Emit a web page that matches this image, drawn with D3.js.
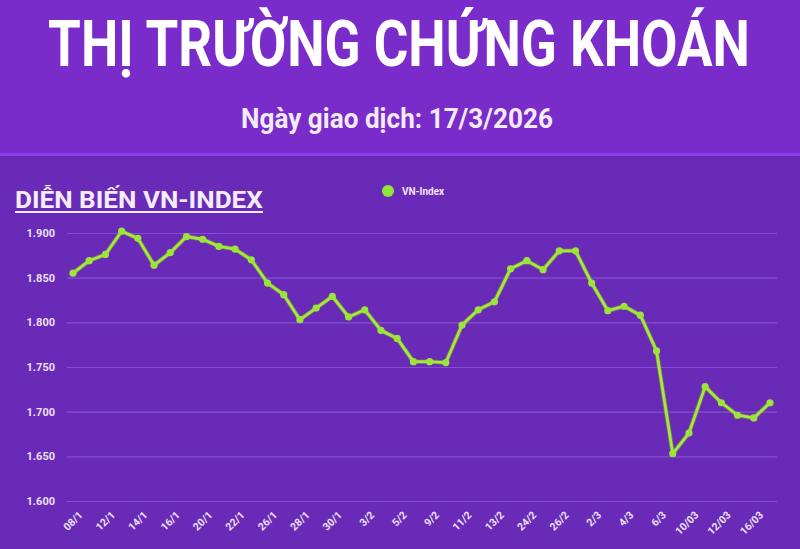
<!DOCTYPE html>
<html><head><meta charset="utf-8">
<script src="https://cdn.jsdelivr.net/npm/d3@7"></script>
<style>html,body{margin:0;padding:0;background:#6a2ab8;}svg{display:block;}</style>
</head><body>
<script>
const dates = ["08/1","9/1","12/1","13/1","14/1","15/1","16/1","19/1","20/1","21/1","22/1","23/1","26/1","27/1","28/1","29/1","30/1","2/2","3/2","4/2","5/2","6/2","9/2","10/2","11/2","12/2","13/2","23/2","24/2","25/2","26/2","27/2","2/3","3/3","4/3","5/3","6/3","9/3","10/03","11/03","12/03","13/03","16/03","17/03"];
const values = [1855,1869,1876,1902,1894,1864,1878,1896,1893,1885,1882,1870,1844,1831,1803,1816,1829,1806,1814,1791,1782,1756,1756,1755,1797,1814,1823,1860,1869,1859,1880,1880,1844,1813,1818,1808,1768,1653,1676,1728,1710,1696,1693,1710];
const yTicks = [1600,1650,1700,1750,1800,1850,1900];
const yTickLabels = ["1.600","1.650","1.700","1.750","1.800","1.850","1.900"];
const seriesName = "VN-Index";
const title = "THỊ TRƯỜNG CHỨNG KHOÁN";
const subtitle = "Ngày giao dịch: 17/3/2026";
const chartTitle = "DIỄN BIẾN VN-INDEX";

const W = 800, H = 549;
const svg = d3.select("body").append("svg").attr("width", W).attr("height", H);

// backgrounds
svg.append("rect").attr("x",0).attr("y",0).attr("width",W).attr("height",H).attr("fill","#6a2ab8");
svg.append("rect").attr("x",0).attr("y",0).attr("width",W).attr("height",154).attr("fill","#7a2ccb");
svg.append("rect").attr("x",0).attr("y",153).attr("width",W).attr("height",3).attr("fill","#8a40ee");

// fitted text: scale horizontally with a transform so the real box matches the target width
function fitText(txt, cx, baseline, size, width, anchor, fill) {
  const g = svg.append("g");
  const t = g.append("text").attr("x",0).attr("y",0).attr("text-anchor",anchor)
    .attr("font-family","Roboto, 'Liberation Sans', sans-serif").attr("font-weight","bold")
    .attr("font-size",size).attr("fill",fill).text(txt);
  const w = t.node().getComputedTextLength();
  g.attr("transform",`translate(${cx},${baseline}) scale(${width/w},1)`);
  return t;
}
fitText(title, 399, 66, 64, 702, "middle", "#ffffff");
fitText(subtitle, 397, 128, 27, 312, "middle", "#f3eafa");
fitText(chartTitle, 15, 208, 24, 248, "start", "#f5ecfa");
svg.append("rect").attr("x",15).attr("y",211).attr("width",248).attr("height",2).attr("fill","#f5ecfa");

// legend
svg.append("circle").attr("cx",388).attr("cy",191).attr("r",6).attr("fill","#8ee83a");
svg.append("text").attr("x",402).attr("y",195).attr("font-family","Roboto, sans-serif")
  .attr("font-weight","bold").attr("font-size",10).attr("fill","#f3e6f7").text(seriesName);

// scales
const x = d3.scalePoint().domain(dates).range([73, 770]);
const y = d3.scaleLinear().domain([1600,1900]).range([501, 233]);

// grid
const yAxis = d3.axisLeft(y).tickValues(yTicks).tickSize(-(777-67))
  .tickFormat((d,i)=>yTickLabels[i]);
const gy = svg.append("g").attr("transform","translate(67,0)").call(yAxis);
gy.select(".domain").remove();
gy.selectAll(".tick line").attr("stroke","#8350d0").attr("stroke-width",1.2);
gy.selectAll(".tick text").attr("x",-12).attr("fill","#ece0f5")
  .attr("font-family","Roboto, sans-serif").attr("font-weight","bold").attr("font-size",11);

// x axis
const xAxis = d3.axisBottom(x).tickValues(dates.filter((d,i)=>i%2===0)).tickSize(0);
const gx = svg.append("g").attr("transform","translate(0,505)").call(xAxis);
gx.select(".domain").remove();
gx.selectAll(".tick text").attr("fill","#ece0f5")
  .attr("font-family","Roboto, sans-serif").attr("font-weight","bold").attr("font-size",10.5)
  .attr("text-anchor","end").attr("dy","0.35em")
  .attr("transform","translate(5,6) rotate(-45)");

// line
const data = dates.map((d,i)=>({d, v: values[i]}));
const line = d3.line().x(p=>x(p.d)).y(p=>y(p.v));
svg.append("path").datum(data).attr("d",line).attr("fill","none")
  .attr("stroke","#7fae2e").attr("stroke-width",4.5).attr("stroke-linejoin","round").attr("opacity",0.6);
svg.append("path").datum(data).attr("d",line).attr("fill","none")
  .attr("stroke","#a6ea3c").attr("stroke-width",2.8).attr("stroke-linejoin","round");
svg.append("g").selectAll("circle").data(data).join("circle")
  .attr("cx",p=>x(p.d)).attr("cy",p=>y(p.v)).attr("r",3.6).attr("fill","#9be53a");
</script>
</body></html>
